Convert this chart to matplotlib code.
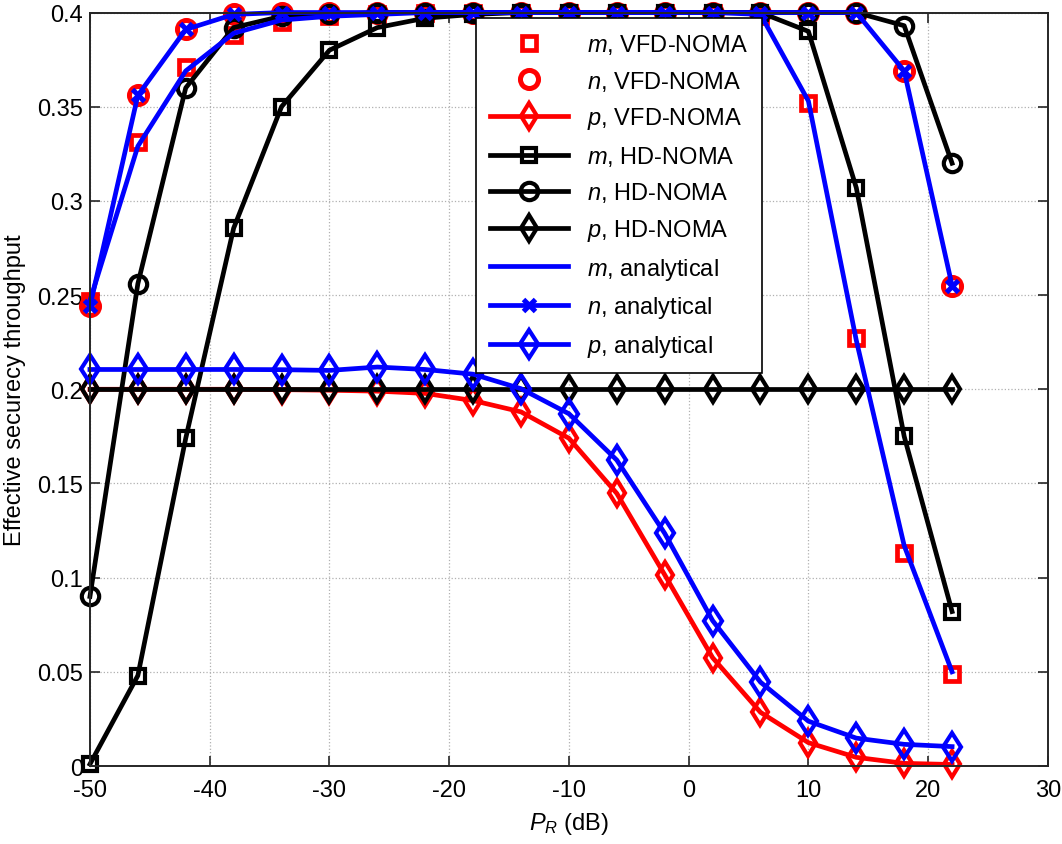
import matplotlib
matplotlib.use("Agg")
import matplotlib.pyplot as plt

plt.rcParams['font.family'] = ['Liberation Sans', 'DejaVu Sans']
plt.rcParams['mathtext.fontset'] = 'custom'
plt.rcParams['mathtext.rm'] = 'Liberation Sans'
plt.rcParams['mathtext.it'] = 'Liberation Sans:italic'

x = [-50, -46, -42, -38, -34, -30, -26, -22, -18, -14, -10, -6, -2, 2, 6, 10, 14, 18, 22]

m_vfd = [0.247, 0.331, 0.371, 0.388, 0.395, 0.398, 0.399, 0.400, 0.400, 0.400,
         0.400, 0.400, 0.400, 0.400, 0.398, 0.352, 0.227, 0.113, 0.049]
n_vfd = [0.244, 0.356, 0.391, 0.399, 0.400, 0.400, 0.400, 0.400, 0.400, 0.400,
         0.400, 0.400, 0.400, 0.400, 0.400, 0.400, 0.400, 0.369, 0.255]
p_vfd = [0.200, 0.200, 0.200, 0.200, 0.1998, 0.1995, 0.199, 0.1978, 0.194, 0.188,
         0.174, 0.1447, 0.1015, 0.0575, 0.0285, 0.0124, 0.0046, 0.0014, 0.0008]

m_hd = [0.001, 0.048, 0.174, 0.2855, 0.350, 0.380, 0.392, 0.397, 0.399, 0.400,
        0.400, 0.400, 0.400, 0.400, 0.400, 0.390, 0.307, 0.175, 0.082]
n_hd = [0.090, 0.256, 0.360, 0.392, 0.398, 0.399, 0.400, 0.400, 0.400, 0.400,
        0.400, 0.400, 0.400, 0.400, 0.400, 0.400, 0.400, 0.393, 0.320]
p_hd = [0.200, 0.200, 0.200, 0.200, 0.200, 0.200, 0.200, 0.200, 0.200, 0.200,
        0.200, 0.200, 0.200, 0.200, 0.200, 0.200, 0.200, 0.200, 0.200]

m_ana = [0.247, 0.329, 0.369, 0.389, 0.396, 0.398, 0.399, 0.400, 0.400, 0.400,
         0.400, 0.400, 0.400, 0.400, 0.399, 0.353, 0.226, 0.117, 0.050]
n_ana = [0.244, 0.356, 0.391, 0.399, 0.400, 0.400, 0.400, 0.400, 0.400, 0.400,
         0.400, 0.400, 0.400, 0.400, 0.400, 0.400, 0.400, 0.369, 0.255]
p_ana = [0.2105, 0.2105, 0.2105, 0.2105, 0.2104, 0.2100, 0.2118, 0.2105, 0.2080, 0.2003,
         0.187, 0.1624, 0.1235, 0.0772, 0.0445, 0.0238, 0.0148, 0.0115, 0.0103]

labels = [r'$m$, VFD-NOMA', r'$n$, VFD-NOMA', r'$p$, VFD-NOMA',
          r'$m$, HD-NOMA', r'$n$, HD-NOMA', r'$p$, HD-NOMA',
          r'$m$, analytical', r'$n$, analytical', r'$p$, analytical']

fig = plt.figure(figsize=(10.62, 8.45), dpi=100)
ax = fig.add_axes([0.0847, 0.0923, 0.902, 0.8917])

lw = 3.4
red, black, blue = '#ff0000', '#000000', '#0000ff'
common = dict(clip_on=False)

ax.plot(x, m_vfd, ls='none', marker='s', ms=10.5, mfc='none', mec=red, mew=3.4, label=labels[0], **common)
ax.plot(x, n_vfd, ls='none', marker='o', ms=13, mfc='none', mec=red, mew=3.6, label=labels[1], **common)
ax.plot(x, p_vfd, color=red, lw=lw, marker='d', ms=13.5, mfc='none', mec=red, mew=3.0, label=labels[2], **common)
ax.plot(x, m_hd, color=black, lw=lw, marker='s', ms=10.5, mfc='none', mec=black, mew=3.0, label=labels[3], **common)
ax.plot(x, n_hd, color=black, lw=lw, marker='o', ms=12.5, mfc='none', mec=black, mew=3.0, label=labels[4], **common)
ax.plot(x, p_hd, color=black, lw=lw, marker='d', ms=13.5, mfc='none', mec=black, mew=3.0, label=labels[5], **common)
ax.plot(x, m_ana, color=blue, lw=lw, label=labels[6], **common)
ax.plot(x, n_ana, color=blue, lw=lw, marker='x', ms=9, mec=blue, mew=3.6, label=labels[7], **common)
ax.plot(x, p_ana, color=blue, lw=lw, marker='d', ms=14.5, mfc='none', mec=blue, mew=3.0, label=labels[8], **common)

ax.set_xlim(-50, 30)
ax.set_ylim(0, 0.4)
ax.set_xticks([-50, -40, -30, -20, -10, 0, 10, 20, 30])
ax.set_xticklabels(['-50', '-40', '-30', '-20', '-10', '0', '10', '20', '30'])
ax.set_yticks([0, 0.05, 0.1, 0.15, 0.2, 0.25, 0.3, 0.35, 0.4])
ax.set_yticklabels(['0', '0.05', '0.1', '0.15', '0.2', '0.25', '0.3', '0.35', '0.4'])
ax.grid(True, ls=':', color='#b0b0b0', lw=0.9)
ax.set_axisbelow(True)
ax.tick_params(direction='in', length=7, width=1.2, top=True, right=True,
               labelsize=17, colors='#262626', labelcolor='black')
ax.tick_params(axis='x', pad=9)
ax.tick_params(axis='y', pad=5)
for s in ax.spines.values():
    s.set_color('#262626')
    s.set_linewidth(1.4)

ax.set_xlabel(r'$P_R$ (dB)', fontsize=17, labelpad=7)
ax.set_ylabel('Effective securecy throughput', fontsize=17, labelpad=8)

leg = ax.legend(loc='upper left', bbox_to_anchor=(0.403, 0.993), borderaxespad=0,
                fontsize=17, handlelength=3.3, frameon=True, fancybox=False,
                framealpha=1, edgecolor='black', labelspacing=0.535,
                borderpad=0.6, handletextpad=0.8)
leg.get_frame().set_linewidth(1.2)

fig.savefig('out.png', dpi=100)
